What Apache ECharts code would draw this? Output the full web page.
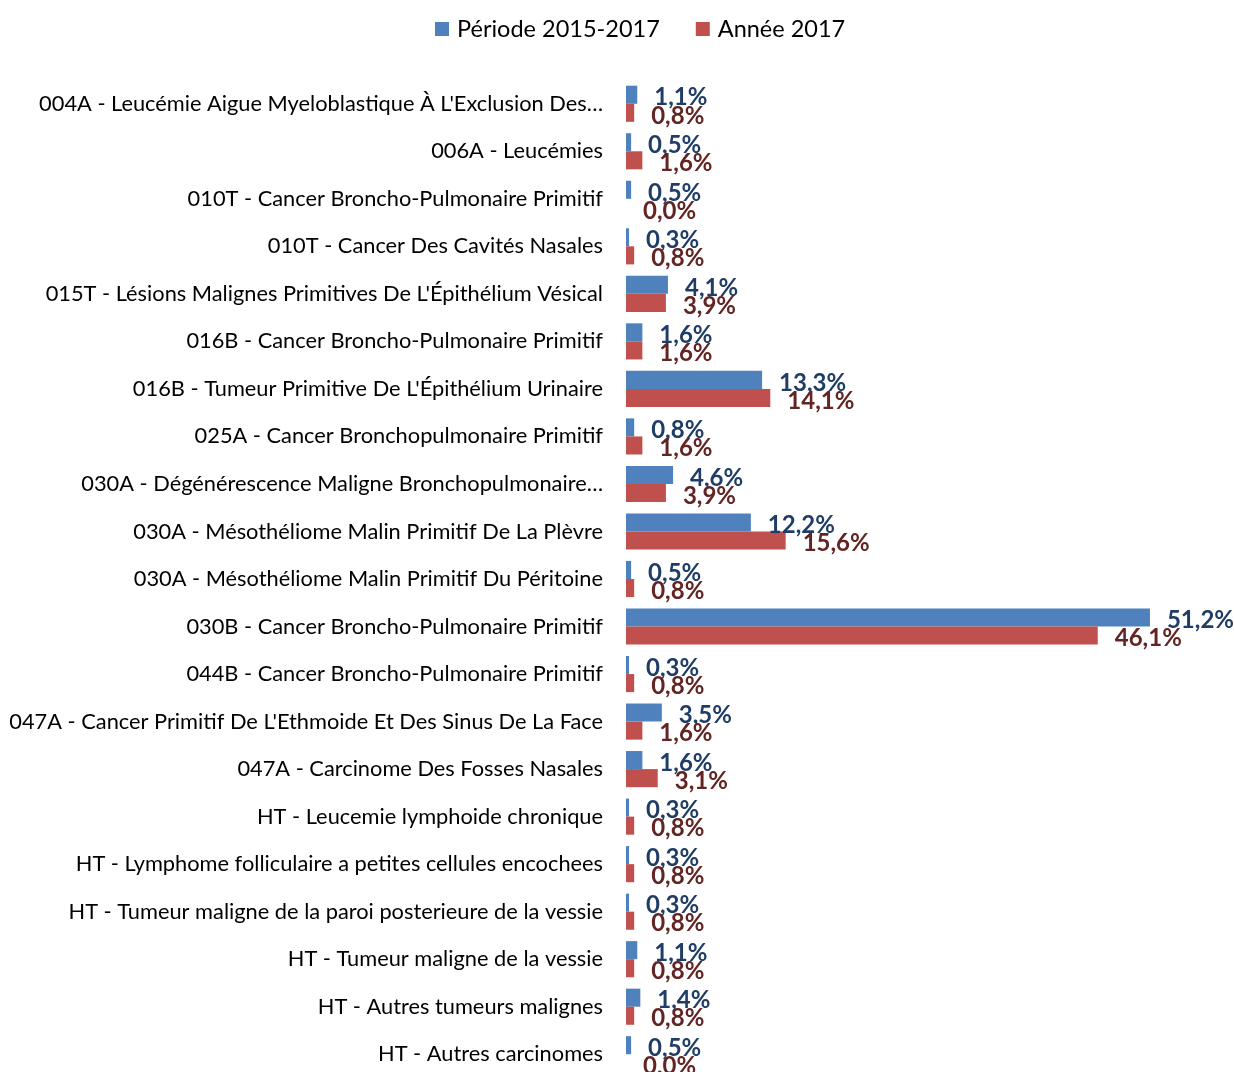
<!DOCTYPE html>
<html>
<head>
<meta charset="utf-8">
<script src="https://cdn.jsdelivr.net/npm/echarts@6/dist/echarts.min.js"></script>
<style>
    html, body { margin: 0; padding: 0; background: #fff; }
    #chart { width: 1234px; height: 1072px; }
</style>
</head>
<body>
<div id="chart"></div>
<script>
var categories = [
    "004A - Leucémie Aigue Myeloblastique À L'Exclusion Des…",
    "006A - Leucémies",
    "010T - Cancer Broncho-Pulmonaire Primitif",
    "010T - Cancer Des Cavités Nasales",
    "015T - Lésions Malignes Primitives De L'Épithélium Vésical",
    "016B - Cancer Broncho-Pulmonaire Primitif",
    "016B - Tumeur Primitive De L'Épithélium Urinaire",
    "025A - Cancer Bronchopulmonaire Primitif",
    "030A - Dégénérescence Maligne Bronchopulmonaire…",
    "030A - Mésothéliome Malin Primitif De La Plèvre",
    "030A - Mésothéliome Malin Primitif Du Péritoine",
    "030B - Cancer Broncho-Pulmonaire Primitif",
    "044B - Cancer Broncho-Pulmonaire Primitif",
    "047A - Cancer Primitif De L'Ethmoide Et Des Sinus De La Face",
    "047A - Carcinome Des Fosses Nasales",
    "HT - Leucemie lymphoide chronique",
    "HT - Lymphome folliculaire a petites cellules encochees",
    "HT - Tumeur maligne de la paroi posterieure de la vessie",
    "HT - Tumeur maligne de la vessie",
    "HT - Autres tumeurs malignes",
    "HT - Autres carcinomes"
];

var periode = [1.1, 0.5, 0.5, 0.3, 4.1, 1.6, 13.3, 0.8, 4.6, 12.2, 0.5, 51.2, 0.3, 3.5, 1.6, 0.3, 0.3, 0.3, 1.1, 1.4, 0.5];
var annee2017 = [0.8, 1.6, 0.0, 0.8, 3.9, 1.6, 14.1, 1.6, 3.9, 15.6, 0.8, 46.1, 0.8, 1.6, 3.1, 0.8, 0.8, 0.8, 0.8, 0.8, 0.0];

var seriesNames = ['Période 2015-2017', 'Année 2017'];

function pct(p) {
    return p.value.toFixed(1).replace('.', ',') + '%';
}

var chart = echarts.init(document.getElementById('chart'));

chart.setOption({
    animation: false,
    backgroundColor: '#ffffff',
    textStyle: {
        fontFamily: 'Lato'
    },
    legend: {
        top: 12,
        left: 430,
        itemWidth: 14,
        itemHeight: 14,
        itemGap: 36,
        icon: 'rect',
        textStyle: {
            fontSize: 23.5,
            color: '#000',
            padding: [0, 0, 0, 3]
        },
        data: seriesNames
    },
    grid: {
        left: 626,
        top: 80,
        width: 614,
        height: 998,
        containLabel: false,
        outerBoundsMode: 'none'
    },
    xAxis: {
        type: 'value',
        min: 0,
        max: 60,
        show: false
    },
    yAxis: {
        type: 'category',
        inverse: true,
        data: categories,
        axisLine: { show: false },
        axisTick: { show: false },
        axisLabel: {
            margin: 23,
            fontSize: 21.8,
            color: '#000'
        }
    },
    series: [
        {
            name: seriesNames[0],
            type: 'bar',
            data: periode,
            barGap: '0%',
            barCategoryGap: '24%',
            itemStyle: { color: '#4F81BD' },
            label: {
                show: true,
                position: 'right',
                distance: 17,
                offset: [0, 3],
                formatter: pct,
                fontSize: 24,
                fontWeight: 'bold',
                color: '#1F3D66'
            }
        },
        {
            name: seriesNames[1],
            type: 'bar',
            data: annee2017,
            barGap: '0%',
            barCategoryGap: '24%',
            itemStyle: { color: '#C0504D' },
            label: {
                show: true,
                position: 'right',
                distance: 17,
                offset: [0, 3],
                formatter: pct,
                fontSize: 24,
                fontWeight: 'bold',
                color: '#632523'
            }
        }
    ]
});
</script>
</body>
</html>
